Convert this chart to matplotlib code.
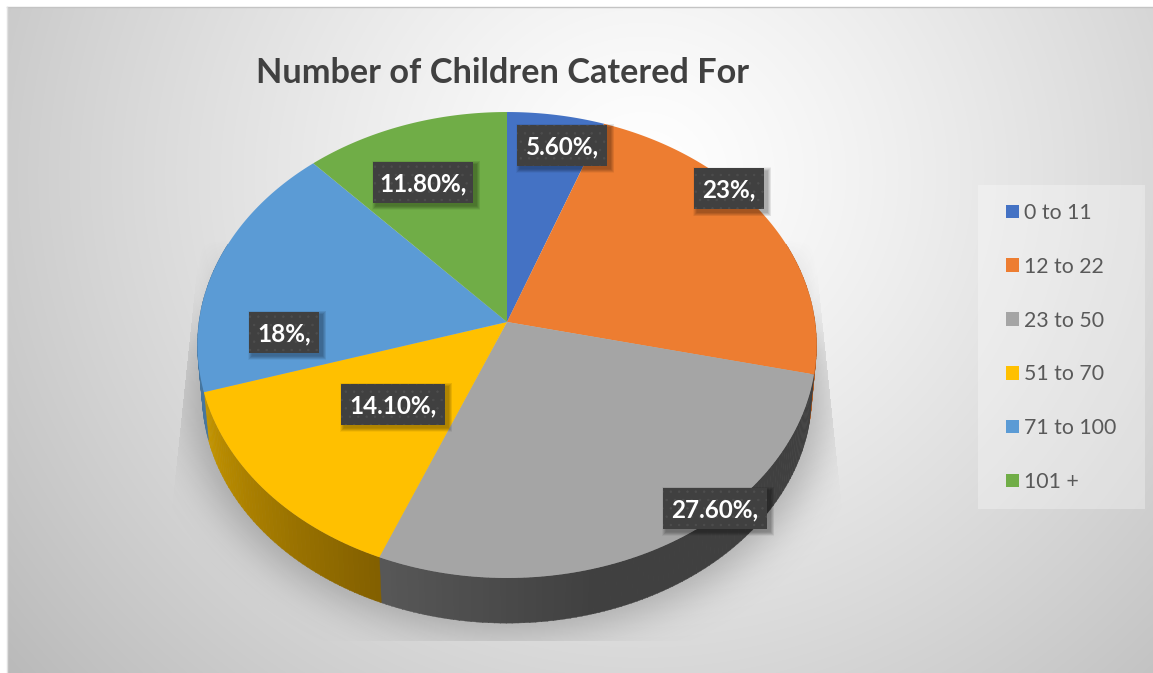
import numpy as np
import matplotlib
matplotlib.use("Agg")
import matplotlib.pyplot as plt
from matplotlib.patches import Rectangle, Patch
from matplotlib.path import Path

# Survey data
categories = ["0 to 11", "12 to 22", "23 to 50", "51 to 70", "71 to 100", "101 +"]
shares = [5.6, 23, 27.6, 14.1, 18, 11.8]
share_labels = ["5.60%,", "23%,", "27.60%,", "14.10%,", "18%,", "11.80%,"]
colors = ["#4472C4", "#ED7D31", "#A5A5A5", "#FFC000", "#5B9BD5", "#70AD47"]
rim_near = ["#34579a", "#b85f24", "#404040", "#836000", "#46769f", "#55843a"]
rim_far = ["#34579a", "#b85f24", "#585858", "#c69600", "#46769f", "#55843a"]
label_centres = [(562, 145), (729, 188.5), (715, 508), (393, 404), (284, 332), (423, 182)]
label_widths = [90, 70, 104, 104, 70, 100]

W, H = 1153, 673
CX, CY = 507.0, 322.0
RX, RY, PERSP = 308.0, 230.7, 0.0987
DEPTH, RIM_SCALE = 49.0, 0.985

plt.rcParams["font.family"] = ["Lato", "DejaVu Sans"]
plt.rcParams["hatch.linewidth"] = 0.5


def project(theta, scale=1.0, drop=0.0):
    """Perspective view of a point on the unit disc, angle clockwise from north."""
    x, y = np.sin(theta), np.cos(theta)
    s = 1 + PERSP * y
    return CX + scale * RX * x / s, CY - scale * RY * y / s + drop


fig = plt.figure(figsize=(W / 100, H / 100), dpi=100, facecolor="white")
ax = fig.add_axes([0, 0, 1, 1])

# Radial backdrop of the chart area
yy, xx = np.mgrid[0:H, 0:W] + 0.5
dist = np.hypot(xx - 640, (yy - 170) / 0.95)
grey = np.clip(255 - 55 * (dist / 690) ** 1.25, 0, 255)
bg = np.repeat(grey[..., None], 3, axis=2) / 255
ax.imshow(bg, extent=(7, W, H, 7), zorder=0, aspect="auto")
ax.plot([7, W], [7, 7], color="#c4c4c4", lw=1, zorder=0.5)
ax.plot([7, 7], [7, H], color="#e0e0e0", lw=1, zorder=0.5)

# Soft shadow cast beneath the disc
ring = np.linspace(0, 2 * np.pi, 361)
sx, sy = project(ring, 1.0, DEPTH + 4)
sx = CX + (sx - CX) * 1.02
mask = Path(np.column_stack([sx, sy])).contains_points(
    np.column_stack([xx.ravel(), yy.ravel()])).reshape(H, W).astype(float)
sigma = 19
kx = np.arange(-3 * sigma, 3 * sigma + 1)
kernel = np.exp(-kx ** 2 / (2 * sigma ** 2))
kernel /= kernel.sum()
soft = np.apply_along_axis(lambda r: np.convolve(r, kernel, mode="same"), 1, mask)
soft = np.apply_along_axis(lambda c: np.convolve(c, kernel, mode="same"), 0, soft)
left_lim = 197 - (yy - 270) * 22 / 210
right_lim = 817 + (yy - 270) * 22 / 210
clip = (xx > left_lim) & (xx < right_lim) & (yy < 641) & (yy > 230)
fade = np.clip((yy - 240) / 110, 0, 1)
alpha = np.clip(soft * 1.1, 0, 1) ** 0.85 * clip * (0.36 * fade)
edge_ramp = np.clip((np.abs(xx - CX) - (right_lim - CX)) / -22, 0, 1)
upper = clip * fade * 0.30 * edge_ramp * np.clip((490 - yy) / 170, 0, 1)
alpha = np.maximum(alpha, upper)
shadow = np.zeros((H, W, 4))
shadow[..., :3] = 0.33
shadow[..., 3] = alpha
ax.imshow(shadow, extent=(0, W, H, 0), zorder=1, aspect="auto")

ax.set_xlim(0, W)
ax.set_ylim(H, 0)
ax.axis("off")

# Slice boundaries from the shares
fractions = np.array(shares) / np.sum(shares)
edges = np.concatenate([[0], np.cumsum(fractions)]) * 2 * np.pi


def blend(c1, c2, t):
    a, b = np.array(matplotlib.colors.to_rgb(c1)), np.array(matplotlib.colors.to_rgb(c2))
    return a + (b - a) * t


# Rim of the disc, shaded along each slice
for i in range(len(shares)):
    a0, a1 = edges[i], edges[i + 1]
    steps = max(int((a1 - a0) / np.radians(1.0)), 1)
    grid = np.linspace(a0, a1, steps + 1)
    for j in range(steps):
        t0, t1 = grid[j], grid[j + 1] + 0.002
        if np.cos((t0 + t1) / 2) > 0.35:
            continue
        tx0, ty0 = project(np.array([t0, t1]))
        bx0, by0 = project(np.array([t1, t0]), RIM_SCALE, DEPTH)
        frac = (t0 - a0) / (a1 - a0)
        # Grey stays dark until late in its sweep; the others shade evenly
        shade = np.clip((frac - 0.62) / 0.38, 0, 1) if i == 2 else frac
        col = blend(rim_near[i], rim_far[i], shade)
        ax.fill(np.r_[tx0, bx0], np.r_[ty0, by0], color=col, lw=0.3, zorder=2)

# Top faces of the slices
for i, col in enumerate(colors):
    theta = np.linspace(edges[i], edges[i + 1], 120)
    px, py = project(theta)
    ax.fill(np.r_[CX, px], np.r_[CY, py], color=col, lw=0, zorder=3)

# Dark value labels with a small drop shadow
BOX_H = 41
for (cx, cy), w, text in zip(label_centres, label_widths, share_labels):
    x0, y0 = cx - w / 2, cy - BOX_H / 2
    for k in range(8):
        grow = 8 - k
        ax.add_patch(Rectangle((x0 + 3 - grow / 2, y0 + 3 - grow / 2), w + grow, BOX_H + grow,
                               facecolor="black", alpha=0.045, lw=0, zorder=4))
    ax.add_patch(Rectangle((x0, y0), w, BOX_H, facecolor="#404040", edgecolor="#4e4e4e",
                           hatch="..", lw=0, zorder=5))
    ax.text(cx, cy + 1.5, text, color="white", fontsize=17.5, fontweight="bold",
            ha="center", va="center", zorder=6)

# Title
ax.text(502.5, 73, "Number of Children Catered For", color="#404040", fontsize=24.7,
        fontweight="bold", ha="center", va="center", zorder=6)

# Legend panel and entries
ax.add_patch(Rectangle((978, 185), 167, 324, facecolor="white", alpha=0.3, lw=0, zorder=5))
handles = [Patch(facecolor=c, edgecolor="none", label=n) for c, n in zip(colors, categories)]
leg = ax.legend(handles=handles, loc="upper left", bbox_to_anchor=(1006 / W, 1 - 203 / H),
                bbox_transform=fig.transFigure, frameon=False, fontsize=15.3,
                labelcolor="#595959", handlelength=0.61, handleheight=0.61,
                handletextpad=0.26, labelspacing=1.59, borderpad=0, borderaxespad=0)
leg.set_zorder(6)

fig.savefig("out.png", dpi=100)
